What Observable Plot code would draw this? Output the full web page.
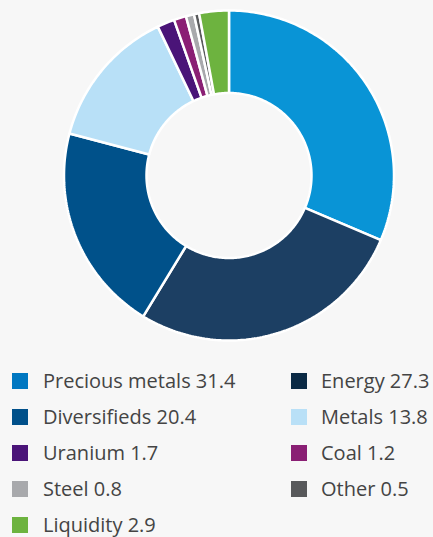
<!DOCTYPE html>
<html>
<head>
<meta charset="utf-8">
<script src="https://cdn.jsdelivr.net/npm/d3@7"></script>
<script src="https://cdn.jsdelivr.net/npm/@observablehq/plot@0.6"></script>
<style>
  html, body { margin: 0; padding: 0; background: #f7f7f7; }
  body { width: 433px; height: 537px; overflow: hidden; font-family: "Open Sans", sans-serif; }
  #chart svg { display: block; background: #f7f7f7; }
  #legend { position: relative; height: 177px; }
  .item { position: absolute; height: 36px; display: flex; align-items: center; white-space: nowrap;
          font-size: 20px; color: #444444; }
  .sw { position: absolute; width: 16px; height: 16px; top: 10px; }
  .lbl { position: absolute; top: 0; line-height: 36px; }
</style>
</head>
<body>
<div id="chart"></div>
<div id="legend"></div>
<script>
const categories = ["Precious metals", "Energy", "Diversifieds", "Metals", "Uranium", "Coal", "Steel", "Other", "Liquidity"];
const values = [31.4, 27.3, 20.4, 13.8, 1.7, 1.2, 0.8, 0.5, 2.9];
const sliceColors = ["#0994d6", "#1c3f63", "#00518a", "#b8e0f7", "#4a1478", "#8a1f74", "#a8a9ac", "#58595b", "#6db33f"];
const legendColors = ["#0077c1", "#0b2a45", "#00508a", "#b9e0f7", "#4a1478", "#8a1f74", "#a8a9ac", "#58595b", "#6db33f"];
const legendOrder = ["Precious metals", "Energy", "Diversifieds", "Metals", "Uranium", "Coal", "Steel", "Other", "Liquidity"];

const innerRatio = 0.5;
const pie = d3.pie().sort(null).value(d => d.value);
const arcs = pie(categories.map((c, i) => ({category: c, value: values[i]})));
const pts = [];
for (const a of arcs) {
  const n = Math.max(4, Math.ceil((a.endAngle - a.startAngle) * 60));
  for (let k = 0; k <= n; k++) {
    const t = a.startAngle + (a.endAngle - a.startAngle) * k / n;
    pts.push({category: a.data.category, x: Math.sin(t), y: Math.cos(t)});
  }
  for (let k = n; k >= 0; k--) {
    const t = a.startAngle + (a.endAngle - a.startAngle) * k / n;
    pts.push({category: a.data.category, x: innerRatio * Math.sin(t), y: innerRatio * Math.cos(t)});
  }
}

const chart = Plot.plot({
  width: 433,
  height: 360,
  marginLeft: 63.5,
  marginRight: 39.5,
  marginTop: 10,
  marginBottom: 20,
  x: {domain: [-1, 1], axis: null},
  y: {domain: [-1, 1], axis: null},
  color: {domain: categories, range: sliceColors},
  style: {background: "#f7f7f7"},
  marks: [
    Plot.line(pts, {x: "x", y: "y", z: "category", fill: "category", stroke: "white",
                    strokeWidth: 2.5, strokeLinejoin: "miter", curve: "linear-closed"})
  ]
});
document.getElementById("chart").appendChild(chart);

const legend = document.getElementById("legend");
const cols = [{sw: 12, tx: 43}, {sw: 291, tx: 321}];
legendOrder.forEach((c, i) => {
  const idx = categories.indexOf(c);
  const row = Math.floor(i / 2), col = i % 2;
  const top = 3 + row * 36;
  const sw = document.createElement("div");
  sw.className = "sw";
  sw.style.left = cols[col].sw + "px";
  sw.style.top = (top + 10) + "px";
  sw.style.background = legendColors[idx];
  legend.appendChild(sw);
  const lbl = document.createElement("div");
  lbl.className = "lbl item";
  lbl.style.left = cols[col].tx + "px";
  lbl.style.top = top + "px";
  lbl.textContent = c + " " + values[idx].toFixed(1);
  legend.appendChild(lbl);
});
</script>
</body>
</html>
